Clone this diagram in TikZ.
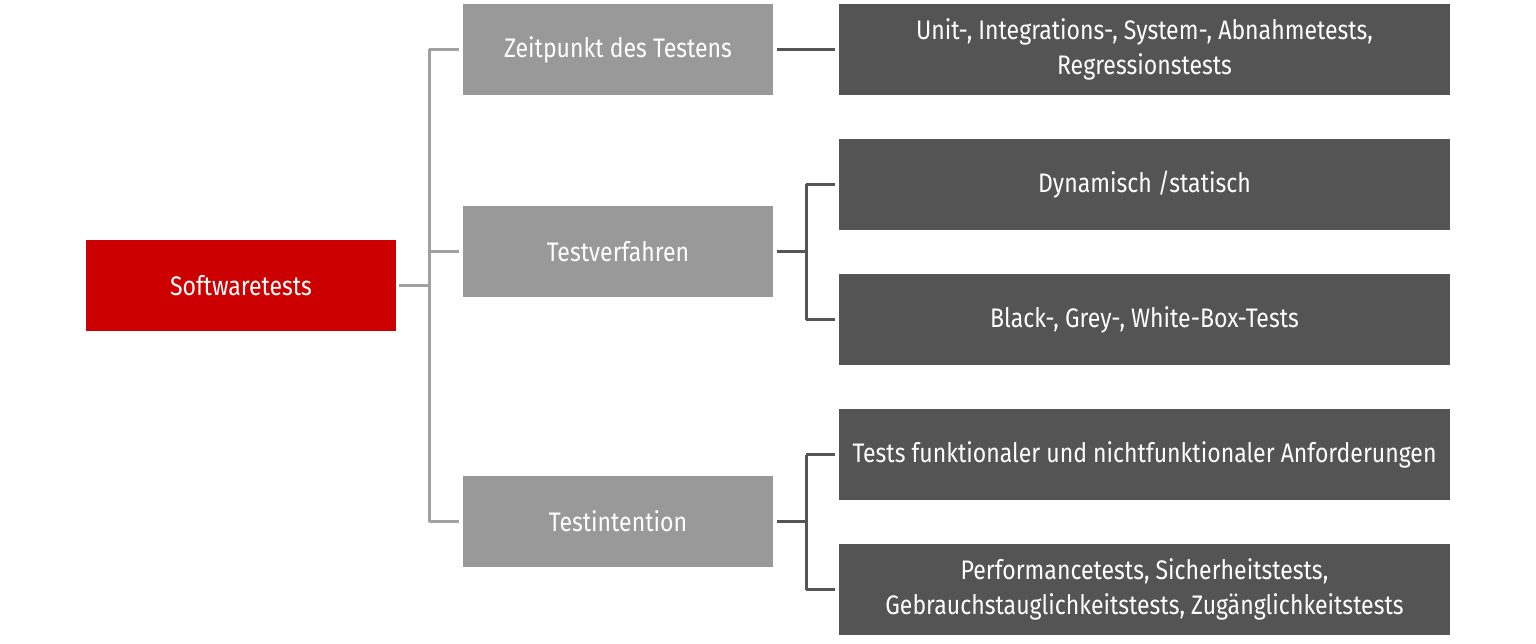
\documentclass[tikz,border=0pt]{standalone}
\usepackage{fontspec}
\setmainfont{Fira Sans}[FakeStretch=0.86]
\definecolor{redbox}{HTML}{CC0000}
\definecolor{lightbox}{HTML}{999999}
\definecolor{darkbox}{HTML}{545454}
\definecolor{lightline}{HTML}{A0A0A0}
\definecolor{darkline}{HTML}{555555}
\begin{document}
\begin{tikzpicture}[x=1pt,y=-1pt,
  box/.style={minimum height=91pt, inner sep=0pt, align=center, text=white,
    font=\fontsize{26.8}{35}\selectfont},
  rootbox/.style={box, fill=redbox, minimum width=310pt},
  midbox/.style={box, fill=lightbox, minimum width=310pt},
  leafbox/.style={box, fill=darkbox, minimum width=611pt},
  lline/.style={draw=lightline, line width=3pt},
  dline/.style={draw=darkline, line width=3pt}]
\useasboundingbox (0,0) rectangle (1536,644);
\node[rootbox] (root) at (241,285.5) {Softwaretests};
\node[midbox] (zeit) at (618,49.5) {Zeitpunkt des Testens};
\node[midbox] (verf) at (618,251.5) {Testverfahren};
\node[midbox] (int) at (618,521.5) {Testintention};
\node[leafbox] (unit) at (1144.5,49.5) {Unit-, Integrations-, System-, Abnahmetests,\\Regressionstests};
\node[leafbox] (dyn) at (1144.5,184.5) {Dynamisch /statisch};
\node[leafbox] (box) at (1144.5,319.5) {Black-, Grey-, White-Box-Tests};
\node[leafbox] (funk) at (1144.5,454.5) {Tests funktionaler und nichtfunktionaler Anforderungen};
\node[leafbox] (perf) at (1144.5,589.5) {Performancetests, Sicherheitstests,\\Gebrauchstauglichkeitstests, Zugänglichkeitstests};
\coordinate (rj) at (429,285.5);
% root bracket
\draw[lline] ([xshift=3pt]root.east) -- (rj);
\draw[lline] (rj |- zeit.west) -- (rj |- int.west);
\draw[lline] (rj |- zeit.west) -- ([xshift=-4pt]zeit.west);
\draw[lline] (rj |- verf.west) -- ([xshift=-4pt]verf.west);
\draw[lline] (rj |- int.west) -- ([xshift=-4pt]int.west);
% zeit
\draw[dline] ([xshift=4pt]zeit.east) -- ([xshift=-4pt]unit.west);
% verf
\coordinate (vj) at (806,251.5);
\draw[dline] ([xshift=4pt]verf.east) -- (vj);
\draw[dline] (vj |- dyn.west) -- (vj |- box.west);
\draw[dline] (vj |- dyn.west) -- ([xshift=-4pt]dyn.west);
\draw[dline] (vj |- box.west) -- ([xshift=-4pt]box.west);
% int
\coordinate (ij) at (806,521.5);
\draw[dline] ([xshift=4pt]int.east) -- (ij);
\draw[dline] (ij |- funk.west) -- (ij |- perf.west);
\draw[dline] (ij |- funk.west) -- ([xshift=-4pt]funk.west);
\draw[dline] (ij |- perf.west) -- ([xshift=-4pt]perf.west);
\end{tikzpicture}
\end{document}
